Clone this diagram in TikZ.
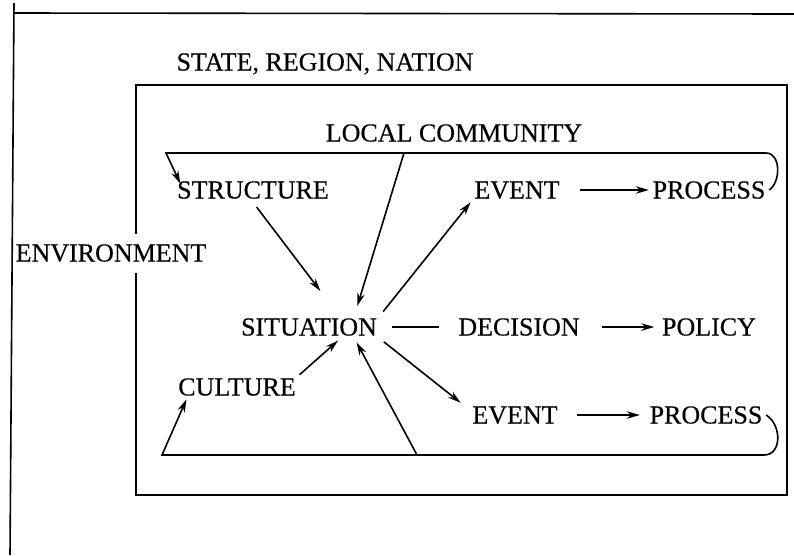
\documentclass[tikz,border=0pt]{standalone}
\usepackage{fontspec}
\setmainfont{Liberation Serif}
\newfontfamily\scanfont{Liberation Serif}[FakeBold=0.4]
\usetikzlibrary{arrows.meta,calc}

\begin{document}
\begin{tikzpicture}[x=1pt, y=-1pt, line width=1.6pt,
  lbl/.style = {font=\scanfont\fontsize{26}{29}\selectfont, inner sep=3pt, text height=17pt, text depth=0pt},
  arr/.style = {-{Stealth[length=13pt, width=7.5pt]}}]
\useasboundingbox (0,0) rectangle (794,555);
% Frames
\draw (14,3) -- (10,555);
\draw (14,13) -- (794,14);
\draw (136,85) rectangle (787,495);
% Labels
\node[lbl] (state) at (325,62) {STATE, REGION, NATION};
\node[lbl] (local) at (454,133) {LOCAL COMMUNITY};
\node[lbl, fill = white, inner ysep = 11pt, inner xsep = 2pt] (environment) at (111,253) {ENVIRONMENT};
\node[lbl] (structure) at (253,190) {STRUCTURE};
\node[lbl] (event1) at (517,190) {EVENT};
\node[lbl] (process1) at (709,190) {PROCESS};
\node[lbl] (situation) at (309,327) {SITUATION};
\node[lbl] (decision) at (519,327) {DECISION};
\node[lbl] (policy) at (709,327) {POLICY};
\node[lbl] (culture) at (237,387) {CULTURE};
\node[lbl] (event2) at (515,415) {EVENT};
\node[lbl] (process2) at (706,415) {PROCESS};
% Loops
\coordinate (lc) at (404,153);
\coordinate (bc) at (417,455);
\coordinate (hub) at (350,330);
\draw[arr] (process1.east) .. controls (781,182) and (781,153) .. (766,153) -- (166,153) -- ($(structure.north west)+(7,6)$);
\draw[arr] (process2.east) .. controls (782,425) and (782,455) .. (764,455) -- (162,455) -- ($(culture.south west)+(12,0)$);
% Into the situation
\draw[arr, shorten <= 6pt, shorten >= 49pt] (structure.south) -- (hub);
\draw[arr, shorten >= 25pt] (lc) -- (hub);
\draw[arr, shorten >= 16pt] (culture.north east) -- (hub);
\draw[arr, shorten >= 14pt] (bc) -- (hub);
% Out of the situation
\draw[arr, shorten <= 4pt] (situation.north east) -- (event1.south west);
\draw[arr, shorten <= 4pt] (situation.south east) -- ($(event2.north west)+(-8,0)$);
\draw[shorten <= 11pt, shorten >= 16pt] (situation.east) -- (decision.west);
\draw[arr, shorten <= 19pt, shorten >= 4pt] (decision.east) -- (policy.west);
\draw[arr, shorten <= 17pt] (event1.east) -- (process1.west);
\draw[arr, shorten <= 16pt, shorten >= 6pt] (event2.east) -- (process2.west);
\end{tikzpicture}
\end{document}
